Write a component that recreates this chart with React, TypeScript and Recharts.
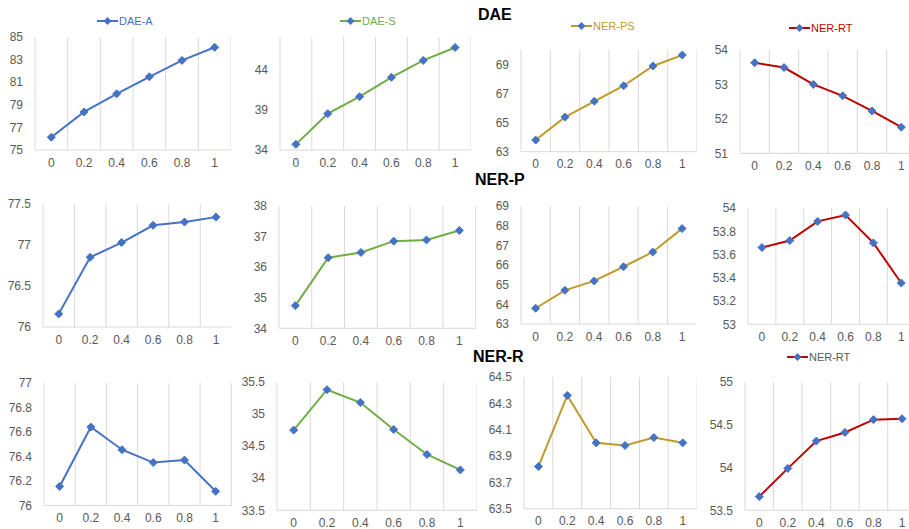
import React from 'react';
import {LineChart, Line, XAxis, YAxis, ReferenceLine, Legend} from 'recharts';

const xLabels = ['0', '0.2', '0.4', '0.6', '0.8', '1'];

// DAE row
const daeA = [76.13, 78.37, 79.97, 81.48, 82.93, 84.09];
const daeS = [34.7, 38.5, 40.6, 43.0, 45.1, 46.7];
const daePS = [63.8, 65.38, 66.47, 67.54, 68.9, 69.65];
const daeRT = [53.63, 53.49, 53.0, 52.67, 52.23, 51.76];

// NER-P row
const nerPA = [76.16, 76.85, 77.03, 77.24, 77.28, 77.34];
const nerPS = [34.74, 36.31, 36.48, 36.85, 36.89, 37.2];
const nerPPS = [63.8, 64.71, 65.19, 65.91, 66.66, 67.85];
const nerPRT = [53.66, 53.72, 53.885, 53.94, 53.7, 53.355];

// NER-R row
const nerRA = [76.155, 76.64, 76.455, 76.35, 76.37, 76.115];
const nerRS = [34.75, 35.38, 35.18, 34.76, 34.37, 34.13];
const nerRPS = [63.82, 64.36, 64.0, 63.98, 64.04, 64.0];
const nerRRT = [53.66, 53.99, 54.31, 54.41, 54.56, 54.57];

const ticksDaeA = [75, 77, 79, 81, 83, 85];
const ticksDaeS = [34, 39, 44];
const ticksDaePS = [63, 65, 67, 69];
const ticksDaeRT = [51, 52, 53, 54];
const ticksNerPA = [76, 76.5, 77, 77.5];
const ticksNerPS = [34, 35, 36, 37, 38];
const ticksNerPPS = [63, 64, 65, 66, 67, 68, 69];
const ticksNerPRT = [53, 53.2, 53.4, 53.6, 53.8, 54];
const ticksNerRA = [76, 76.2, 76.4, 76.6, 76.8, 77];
const ticksNerRS = [33.5, 34, 34.5, 35, 35.5];
const ticksNerRPS = [63.5, 63.7, 63.9, 64.1, 64.3, 64.5];
const ticksNerRRT = [53.5, 54, 54.5, 55];

const BLUE = '#4472C4';
const GREEN = '#70AD47';
const GOLD = '#C09A2A';
const RED = '#C00000';
const GRID = '#D9D9D9';
const TEXT = '#595959';

const gridBounds = [...xLabels.map((_, i) => i - 0.5), xLabels.length - 0.5];

type Panel = {
	values: number[];
	ticks: number[];
	domain: [number, number];
	color: string;
	name: string;
	box: [number, number, number, number]; // plot left, right, top, bottom
	legend?: {x: number; y: number; textColor: string};
};

const panels: Panel[] = [
	{values: daeA, ticks: ticksDaeA, domain: [75, 85], color: BLUE, name: 'DAE-A', box: [35, 231, 37, 150], legend: {x: 97, y: 21, textColor: BLUE}},
	{values: daeS, ticks: ticksDaeS, domain: [34, 48], color: GREEN, name: 'DAE-S', box: [280, 471, 37, 150], legend: {x: 340, y: 21, textColor: GREEN}},
	{values: daePS, ticks: ticksDaePS, domain: [63, 70], color: GOLD, name: 'NER-PS', box: [520.5, 696.5, 50, 151.7], legend: {x: 571, y: 26, textColor: GOLD}},
	{values: daeRT, ticks: ticksDaeRT, domain: [51, 54], color: RED, name: 'NER-RT', box: [740, 916, 50, 153.3], legend: {x: 789, y: 28, textColor: RED}},
	{values: nerPA, ticks: ticksNerPA, domain: [76, 77.5], color: BLUE, name: 'DAE-A', box: [42.7, 231.4, 204.3, 327.3]},
	{values: nerPS, ticks: ticksNerPS, domain: [34, 38], color: GREEN, name: 'DAE-S', box: [279.3, 476, 206, 328.3]},
	{values: nerPPS, ticks: ticksNerPPS, domain: [63, 69], color: GOLD, name: 'NER-PS', box: [520.7, 696.4, 206, 324]},
	{values: nerPRT, ticks: ticksNerPRT, domain: [53, 54], color: RED, name: 'NER-RT', box: [748.4, 915.6, 207.7, 324]},
	{values: nerRA, ticks: ticksNerRA, domain: [76, 77], color: BLUE, name: 'DAE-A', box: [44.3, 231.6, 383.3, 505.7]},
	{values: nerRS, ticks: ticksNerRS, domain: [33.5, 35.5], color: GREEN, name: 'DAE-S', box: [276.7, 476.7, 381.7, 510]},
	{values: nerRPS, ticks: ticksNerRPS, domain: [63.5, 64.5], color: GOLD, name: 'NER-PS', box: [523.9, 697.1, 377.3, 509]},
	{values: nerRRT, ticks: ticksNerRRT, domain: [53.5, 55], color: RED, name: 'NER-RT', box: [744.7, 916, 381.7, 510], legend: {x: 787, y: 357, textColor: TEXT}}
];

const titles = [
	{text: 'DAE', x: 478, top: 6.5},
	{text: 'NER-P', x: 475, top: 172},
	{text: 'NER-R', x: 473, top: 349}
];

const Y_W = 40;
const M_TOP = 10;
const X_H = 25;

function diamond(cx: number, cy: number, r = 4) {
	return `M${cx},${cy - r}L${cx + r},${cy}L${cx},${cy + r}L${cx - r},${cy}Z`;
}

function Dot(props: any) {
	const {cx, cy, index} = props;
	if (cx == null || cy == null) return null;
	return <path key={index} d={diamond(cx, cy)} fill={BLUE} stroke={BLUE} strokeWidth={1} />;
}

function LegendItem({color, name, textColor}: {color: string; name: string; textColor: string}) {
	return (
		<div style={{display: 'flex', alignItems: 'center', whiteSpace: 'nowrap'}}>
			<svg width={21} height={10}>
				<line x1={0} y1={5} x2={21} y2={5} stroke={color} strokeWidth={2} />
				<path d={diamond(10.5, 5)} fill={BLUE} />
			</svg>
			<span style={{fontSize: 11, color: textColor, marginLeft: 1, lineHeight: '12px'}}>{name}</span>
		</div>
	);
}

function PanelChart({p}: {p: Panel}) {
	const [pl, pr, pt, pb] = p.box;
	const left = pl - Y_W;
	const top = pt - M_TOP;
	const width = pr - pl + Y_W;
	const height = pb - pt + M_TOP + X_H;
	const rows = xLabels.map((label, i) => ({x: i, label, v: p.values[i]}));
	return (
		<div style={{position: 'absolute', left, top}}>
			<LineChart width={width} height={height} data={rows} margin={{top: M_TOP, right: 0, bottom: 0, left: 0}}>
				<XAxis
					dataKey="x"
					type="number"
					domain={[-0.5, xLabels.length - 0.5]}
					ticks={xLabels.map((_, i) => i)}
					tickFormatter={(i: number) => xLabels[i]}
					height={X_H}
					axisLine={{stroke: GRID}}
					tickLine={false}
					tick={{fill: TEXT, fontSize: 12}}
					interval={0}
				/>
				<YAxis
					type="number"
					domain={p.domain}
					ticks={p.ticks}
					width={Y_W}
					axisLine={false}
					tickLine={false}
					tickMargin={6}
					tick={{fill: TEXT, fontSize: 12}}
					interval={0}
					allowDataOverflow
				/>
				{gridBounds.map((g) => (
					<ReferenceLine key={g} x={g} stroke={GRID} strokeWidth={1} ifOverflow="extendDomain" />
				))}
				<Line
					dataKey="v"
					name={p.name}
					stroke={p.color}
					strokeWidth={2}
					dot={Dot}
					activeDot={false}
					isAnimationActive={false}
				/>
				{p.legend && (
					<Legend
						layout="vertical"
						align="center"
						verticalAlign="middle"
						wrapperStyle={{left: p.legend.x - left, top: p.legend.y - top - 6, width: 'auto'}}
						content={() => <LegendItem color={p.color} name={p.name} textColor={p.legend!.textColor} />}
					/>
				)}
			</LineChart>
		</div>
	);
}

export default function App() {
	return (
		<div
			style={{
				position: 'absolute',
				left: 0,
				top: 0,
				width: 909,
				height: 529,
				overflow: 'hidden',
				background: '#fff',
				fontFamily: '"Liberation Sans", Arial, sans-serif'
			}}
		>
			{panels.map((p, i) => (
				<PanelChart key={i} p={p} />
			))}
			{titles.map((t) => (
				<div
					key={t.text}
					style={{position: 'absolute', left: t.x, top: t.top, fontSize: 16, lineHeight: '16px', fontWeight: 'bold', color: '#000'}}
				>
					{t.text}
				</div>
			))}
		</div>
	);
}
